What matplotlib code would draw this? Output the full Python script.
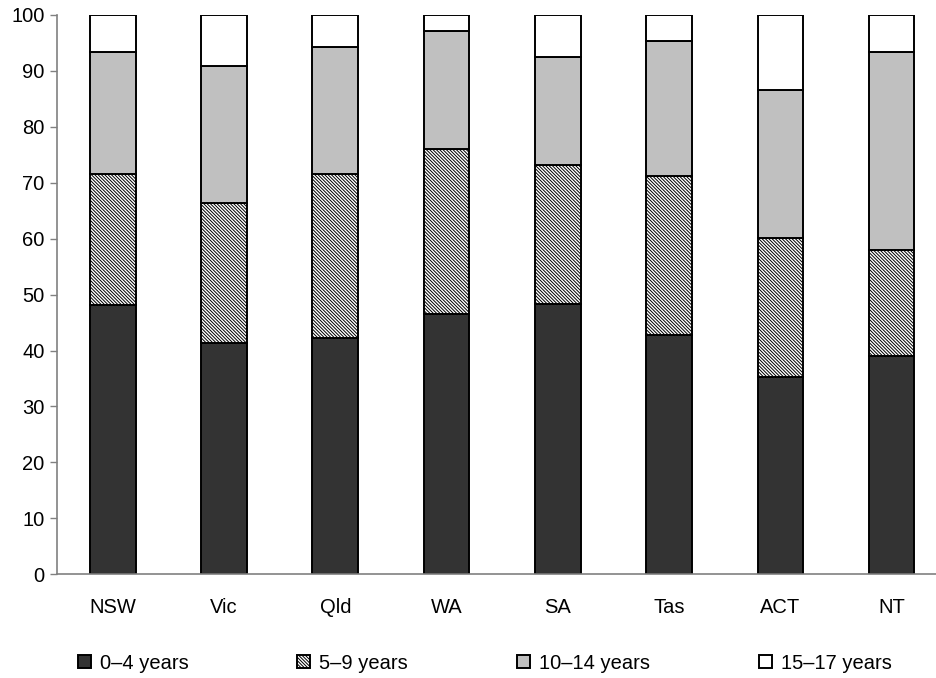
import numpy as np
import matplotlib.pyplot as plt

plt.rcParams['font.family'] = ['Liberation Sans', 'DejaVu Sans']
plt.rcParams['hatch.linewidth'] = 0.7

states = ['NSW', 'Vic', 'Qld', 'WA', 'SA', 'Tas', 'ACT', 'NT']
age_0_4 = [48.1, 41.3, 42.2, 46.6, 48.4, 42.8, 35.2, 39.1]
age_5_9 = [23.5, 25.1, 29.4, 29.4, 24.8, 28.4, 25.0, 18.9]
age_10_14 = [21.7, 24.5, 22.7, 21.1, 19.3, 24.1, 26.3, 35.3]
age_15_17 = [6.7, 9.1, 5.7, 2.9, 7.5, 4.7, 13.5, 6.7]

series = [
    ('0–4 years', age_0_4, '#333333', None),
    ('5–9 years', age_5_9, 'white', '\\' * 10),
    ('10–14 years', age_10_14, '#c0c0c0', None),
    ('15–17 years', age_15_17, 'white', None),
]

fig = plt.figure(figsize=(9.36, 6.78), dpi=100)
ax = fig.add_axes([0.061, 0.153, 0.951, 0.825])

x = np.arange(len(states))
bottom = np.zeros(len(states))
for label, vals, color, hatch in series:
    ax.bar(x, vals, width=0.41, bottom=bottom, color=color, edgecolor='black',
           linewidth=1.4, hatch=hatch, label=label)
    bottom += np.array(vals)

ax.set_xlim(-0.5, 7.5)
ax.set_ylim(0, 100)
ax.set_yticks(range(0, 101, 10))
ax.set_xticks(x)
ax.set_xticklabels(states)
ax.tick_params(axis='x', length=0, pad=17, labelsize=14.5)
ax.tick_params(axis='y', length=5, width=1, color='#808080', labelsize=14.5, pad=4)
for s in ['top', 'right']:
    ax.spines[s].set_visible(False)
for s in ['left', 'bottom']:
    ax.spines[s].set_color('#808080')
    ax.spines[s].set_linewidth(1.2)

fig.legend(loc='center left', bbox_to_anchor=(0.083, 0.022), ncol=4, frameon=False,
           fontsize=14.5, handlelength=0.65, handleheight=0.65, handletextpad=0.45,
           columnspacing=5.4, borderpad=0, borderaxespad=0)

fig.savefig('out.png', dpi=100)
